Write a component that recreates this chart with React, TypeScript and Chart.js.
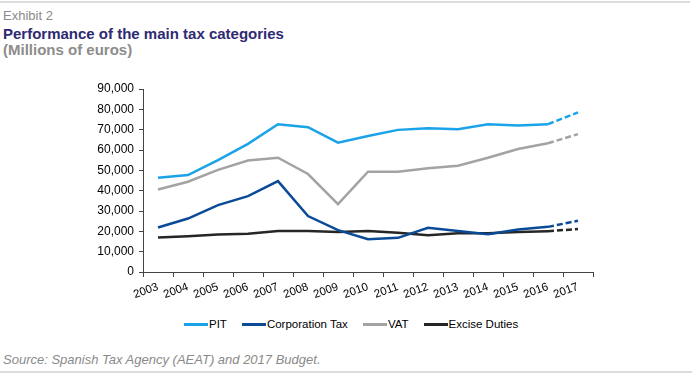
import React, { useEffect, useRef } from "react";
import { Chart, registerables } from "chart.js";

Chart.register(...registerables);

const years = ["2003","2004","2005","2006","2007","2008","2009","2010","2011","2012","2013","2014","2015","2016","2017"];
const pit = [46400, 47700, 55000, 63000, 72700, 71200, 63600, 66900, 69900, 70700, 70200, 72700, 72000, 72700, 78500];
const corporationTax = [21900, 26300, 32900, 37300, 44700, 27500, 20600, 16100, 16800, 21700, 20200, 18600, 20900, 22200, 25200];
const vat = [40600, 44400, 50200, 54800, 56200, 48200, 33400, 49300, 49300, 51000, 52300, 56200, 60500, 63300, 67800];
const exciseDuties = [17000, 17600, 18400, 18800, 20200, 20200, 19700, 20200, 19300, 18100, 19100, 19100, 19700, 20100, 21100];
const yTickValues = [0, 10000, 20000, 30000, 40000, 50000, 60000, 70000, 80000, 90000];

const seriesNames = ["PIT", "Corporation Tax", "VAT", "Excise Duties"];
const seriesColors = ["#1aa3e8", "#0b4a96", "#a3a3a3", "#262626"];

const FONT = "Arial, 'Liberation Sans', sans-serif";

export default function App() {
  const ref = useRef<HTMLCanvasElement | null>(null);

  useEffect(() => {
    document.body.style.margin = "0";
    const canvas = ref.current;
    if (!canvas) return;
    const lastIdx = years.length - 1;
    const mk = (label: string, data: number[], color: string) => ({
      label,
      data,
      borderColor: color,
      backgroundColor: color,
      borderWidth: 2.5,
      pointRadius: 0,
      pointHoverRadius: 0,
      tension: 0,
      fill: false,
      segment: {
        borderDash: (ctx: any) => (ctx.p1DataIndex === lastIdx ? [6, 3] : undefined),
      },
    });
    const chart = new Chart(canvas, {
      type: "line",
      data: {
        labels: years,
        datasets: [
          mk(seriesNames[0], pit, seriesColors[0]),
          mk(seriesNames[1], corporationTax, seriesColors[1]),
          mk(seriesNames[2], vat, seriesColors[2]),
          mk(seriesNames[3], exciseDuties, seriesColors[3]),
        ],
      },
      options: {
        animation: false,
        responsive: false,
        maintainAspectRatio: false,
        layout: { padding: { left: 60, right: 103, top: 19, bottom: 0 } },
        plugins: { legend: { display: false }, tooltip: { enabled: false } },
        scales: {
          x: {
            offset: true,
            grid: { display: true, drawOnChartArea: false, offset: true, tickLength: 5, color: "#444" },
            border: { color: "#444", width: 1 },
            ticks: {
              font: { family: FONT, size: 11.5 },
              color: "#000",
              minRotation: 20,
              maxRotation: 20,
              autoSkip: false,
              padding: 3,
            },
            afterFit: (s: any) => { s.height = 38; },
          },
          y: {
            min: 0,
            max: 90000,
            afterBuildTicks: (s: any) => { s.ticks = yTickValues.map((v) => ({ value: v })); },
            grid: { display: true, drawOnChartArea: false, tickLength: 4, color: "#444" },
            border: { color: "#444", width: 1 },
            ticks: {
              font: { family: FONT, size: 12 },
              color: "#000",
              padding: 5,
              callback: (v: any) => Number(v).toLocaleString("en-US"),
            },
            afterFit: (s: any) => { s.width = 83; },
          },
        },
      },
    });
    return () => chart.destroy();
  }, []);

  return (
    <div style={{ position: "relative", width: 696, height: 375, background: "#fff", fontFamily: FONT, overflow: "hidden" }}>
      <div style={{ position: "absolute", left: 0, top: 1, width: 690, height: 2, background: "#dcdcdc" }} />
      <div style={{ position: "absolute", left: 3, top: 8, fontSize: 13, color: "#8a8a8a", lineHeight: "15px" }}>Exhibit 2</div>
      <div style={{ position: "absolute", left: 3, top: 25, fontSize: 15, fontWeight: "bold", color: "#2e2a73", lineHeight: "17px" }}>
        Performance of the main tax categories
      </div>
      <div style={{ position: "absolute", left: 3, top: 41, fontSize: 15, fontWeight: "bold", color: "#8c8c8c", lineHeight: "17px" }}>
        (Millions of euros)
      </div>
      <canvas ref={ref} width={696} height={240} style={{ position: "absolute", left: 0, top: 70, width: 696, height: 240 }} />
      <div style={{ position: "absolute", left: 184, top: 316, display: "flex", alignItems: "center", gap: 15, fontSize: 11.5, color: "#000", lineHeight: "16px" }}>
        {seriesNames.map((n, i) => (
          <div key={n} style={{ display: "flex", alignItems: "center" }}>
            <div style={{ width: 24, height: 3, background: seriesColors[i], marginRight: 1 }} />
            <span>{n}</span>
          </div>
        ))}
      </div>
      <div style={{ position: "absolute", left: 3, top: 352, fontSize: 13, fontStyle: "italic", color: "#8a8a8a", lineHeight: "15px" }}>
        Source: Spanish Tax Agency (AEAT) and 2017 Budget.
      </div>
      <div style={{ position: "absolute", left: 0, top: 371, width: 692, height: 2, background: "#dcdcdc" }} />
    </div>
  );
}
